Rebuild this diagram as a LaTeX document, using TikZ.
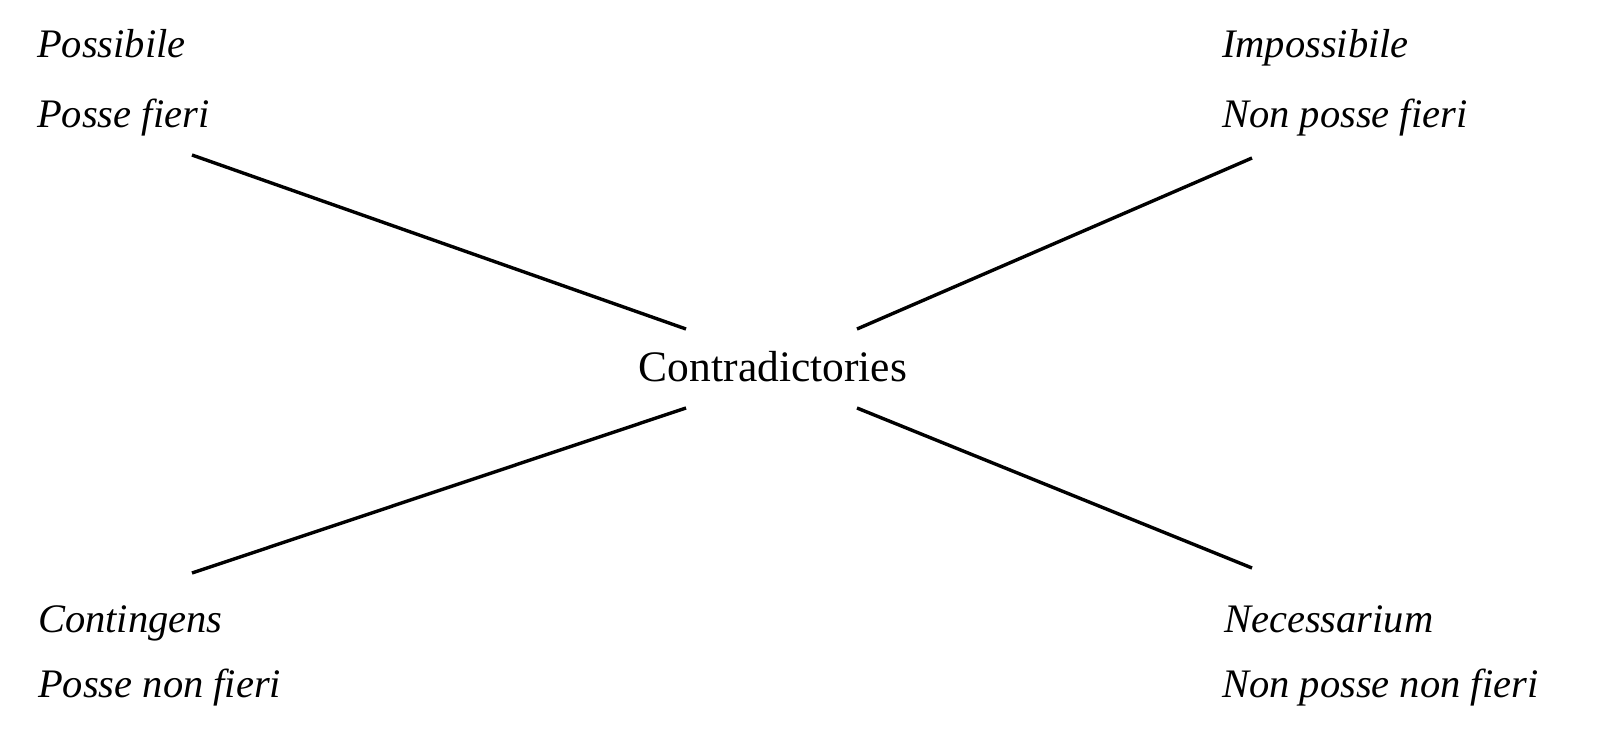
\documentclass[tikz,border=0pt]{standalone}
\usepackage{fontspec}
\setmainfont{Liberation Serif}
\begin{document}
\begin{tikzpicture}[x=1pt,y=-1pt,
		label/.style={inner sep=0pt,anchor=base west,font=\fontsize{40.5}{48}\selectfont\itshape},
		center/.style={inner sep=0pt,anchor=base,font=\fontsize{43.5}{50}\selectfont},
		spoke/.style={line width=3.4pt}]
		\useasboundingbox (0,0) rectangle (1600,747);

		\coordinate (tlout) at (192,155);
		\coordinate (tlin) at (686,329);
		\coordinate (trout) at (1252,158);
		\coordinate (trin) at (857,329);
		\coordinate (blout) at (192,573);
		\coordinate (blin) at (686,408);
		\coordinate (brout) at (1252,568);
		\coordinate (brin) at (857,408);

		\node [label] (possibile) at (37,57) {Possibile};
\node [label] (possefieri) at (37,127) {Posse fieri};
\node [label] (impossibile) at (1222,57) {Impossibile};
\node [label] (nonpossefieri) at (1222,127) {Non posse fieri};
\node [label] (contingens) at (38,632) {Contingens};
\node [label] (possenonfieri) at (38,697) {Posse non fieri};
\node [label] (necessarium) at (1224,632) {Necessarium};
\node [label] (nonpossenonfieri) at (1222,697) {Non posse non fieri};
\node [center] (contra) at (773,381) {Contradictories};

		\draw [spoke] (tlout) -- (tlin);
		\draw [spoke] (trout) -- (trin);
		\draw [spoke] (blout) -- (blin);
		\draw [spoke] (brout) -- (brin);

		\end{tikzpicture}
\end{document}
